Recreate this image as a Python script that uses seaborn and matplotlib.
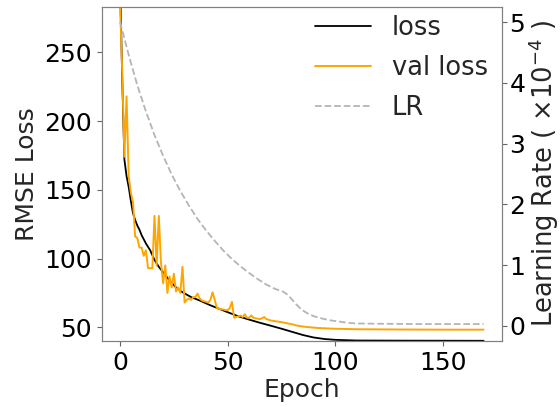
import numpy as np
import pandas as pd
import seaborn as sns
import matplotlib
matplotlib.use("Agg")
import matplotlib.pyplot as plt

# values
loss_epoch = [0, 1, 2, 3, 4, 5, 6, 7, 8, 9, 10, 12, 14, 16, 18, 20, 23, 26, 29, 33,
              37, 42, 46, 50, 55, 60, 65, 70, 75, 80, 85, 90, 95, 100, 110, 130, 169]
loss = [300, 230, 172, 160, 152, 142, 133, 128, 124, 121, 117, 111, 106, 99, 94, 90, 84, 79, 75.5, 72,
        69.5, 66, 63.5, 61, 58, 55.6, 53.3, 51.2, 49, 46.7, 44.4, 42.6, 41.5, 40.9, 40.4, 40.3, 40.2]

val_epoch = list(range(0, 70)) + [70, 72, 74, 76, 78, 80, 83, 87, 92, 99, 110, 130, 150, 169]
val_loss = [283, 235, 174, 218, 160, 148, 141, 116, 115, 108,
            108, 102, 106, 93, 93, 93, 131, 95, 131, 97,
            82, 95, 75, 87, 79, 89, 76, 79, 75, 94,
            68, 70, 71, 70, 72, 72, 74.5, 71, 69.5, 69,
            68.5, 68, 70, 75.5, 70, 64, 63.5, 63, 63, 62.5,
            62.5, 64, 68.5, 57, 57.5, 58, 58.5, 57.5, 59.5, 57,
            57, 58.7, 57, 56.5, 56.3, 56, 56.5, 57.5, 56, 55.5,
            55, 54.5, 54, 53.5, 52.8, 52.2, 51, 50.2, 49.5, 49, 48.6, 48.4, 48.3, 48.3]

lr_epoch = [0, 4, 8, 12, 16, 20, 24, 28, 32, 36, 40, 44, 48, 52, 56, 60, 64, 68, 72, 76,
            78, 80, 82, 84, 86, 88, 90, 94, 98, 102, 106, 110, 120, 140, 169]
lr = [5.00, 4.46, 3.96, 3.53, 3.14, 2.80, 2.49, 2.22, 1.98, 1.76, 1.57, 1.40, 1.24, 1.10, 0.98,
      0.87, 0.77, 0.68, 0.61, 0.56, 0.51, 0.43, 0.35, 0.28, 0.23, 0.19, 0.16, 0.12, 0.09, 0.07,
      0.05, 0.04, 0.035, 0.03, 0.03]

sns.set_style("ticks")
plt.rcParams["font.family"] = ["DejaVu Sans"]
plt.rcParams["font.size"] = 18
plt.rcParams["axes.edgecolor"] = "0.5"
plt.rcParams["xtick.color"] = "0.4"
plt.rcParams["ytick.color"] = "0.4"
plt.rcParams["xtick.labelcolor"] = "black"
plt.rcParams["ytick.labelcolor"] = "black"

fig, ax = plt.subplots(figsize=(5.6, 4.07), dpi=100)
fig.subplots_adjust(left=0.182, right=0.896, bottom=0.162, top=0.983)

sns.lineplot(x=loss_epoch, y=loss, ax=ax, color="black", linewidth=1.3, label="loss", legend=False)
sns.lineplot(x=val_epoch, y=val_loss, ax=ax, color="orange", linewidth=1.4, label="val loss", legend=False)
ax.set_ylim(40, 283)
ax.set_xlim(-8.45, 177.45)
ax.set_xticks([0, 50, 100, 150])
ax.set_yticks([50, 100, 150, 200, 250])
ax.set_xlabel("Epoch", fontsize=18, labelpad=2)
ax.set_ylabel("RMSE Loss", fontsize=18)
ax.tick_params(labelsize=18)

ax2 = ax.twinx()
sns.lineplot(x=lr_epoch, y=lr, ax=ax2, color="#b5b5b5", linestyle="--", linewidth=1.3,
             label="LR", legend=False)
ax2.set_ylim(-0.25, 5.25)
ax2.set_yticks([0, 1, 2, 3, 4, 5])
ax2.set_ylabel(r"Learning Rate ( $\times10^{-4}$ )", fontsize=18.5, labelpad=1)
ax2.tick_params(labelsize=18, pad=2)

h1, l1 = ax.get_legend_handles_labels()
h2, l2 = ax2.get_legend_handles_labels()
ax2.legend(h1 + h2, l1 + l2, loc="upper right", frameon=False, fontsize=18.5,
           borderaxespad=0.0, labelspacing=0.55, handlelength=2.2, borderpad=0.3,
           bbox_to_anchor=(0.985, 1.0))

fig.savefig("out.png", dpi=100)
